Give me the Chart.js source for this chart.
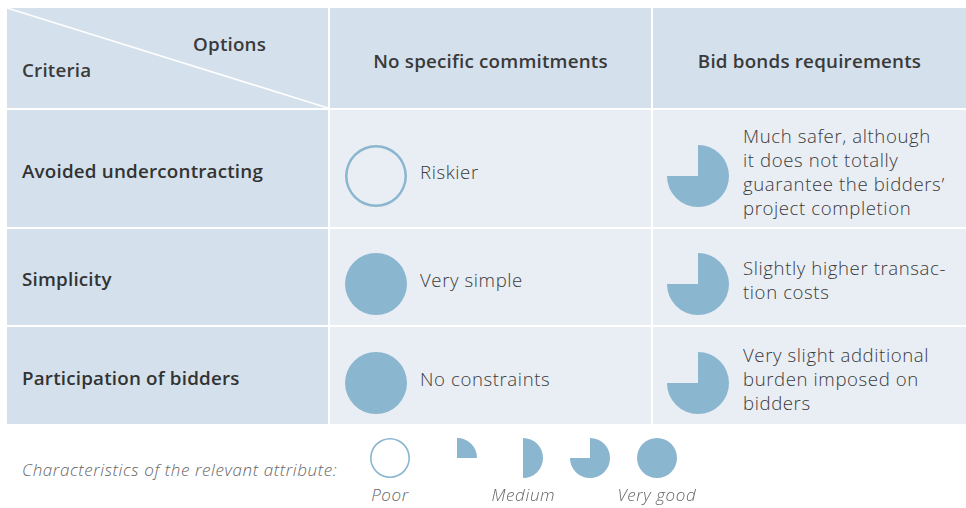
<!DOCTYPE html>
<html>
<head>
<meta charset="utf-8">
<script src="https://cdn.jsdelivr.net/npm/chart.js@4.4.1/dist/chart.umd.min.js"></script>
<style>
  html, body { margin: 0; padding: 0; background: #fff; }
  body { width: 966px; height: 508px; position: relative; overflow: hidden; font-family: "Open Sans", Lato, sans-serif; color: #3c3c3c; }
  #grid {
    position: absolute; left: 7px; top: 8px;
    display: grid;
    grid-template-columns: 321px 321px 313px;
    grid-template-rows: 100px 117px 96px 97px;
    gap: 2px;
  }
  .cell { position: relative; background: #e9eef5; }
  .head { background: #d4e1ec; }
  .hd { font-size: 18.8px; letter-spacing: 0.2px; font-weight: 600; color: #3a3a3a; white-space: nowrap; }
  .colhead { display: flex; align-items: center; justify-content: center; padding-top: 6px; box-sizing: border-box; }
  .rowlabel { display: flex; align-items: center; padding-left: 15px; padding-top: 4px; box-sizing: border-box; color: #333; }
  .ball { position: absolute; top: 50%; }
  .note { position: absolute; left: 90px; top: 50%; transform: translateY(-50%); margin-top: 3px; font-size: 18.6px; letter-spacing: 0.6px; font-weight: 300; color: #3a3a3a; white-space: nowrap; }
  .note div { height: 24px; line-height: 24px; overflow: hidden; }
  #legendText { position: absolute; left: 22px; top: 458px; font-size: 17px; letter-spacing: 0.6px; font-style: italic; font-weight: 300; color: #666; white-space: nowrap; }
  .lg { position: absolute; top: 438px; width: 66px; text-align: center; }
  .lg canvas { display: block; margin: 0 auto; }
  .lg span { display: block; margin-top: 5px; font-size: 17px; letter-spacing: 0.6px; font-style: italic; font-weight: 300; color: #666; white-space: nowrap; height: 22px; margin-left: -20px; margin-right: -20px; }
</style>
</head>
<body>
<div id="grid"></div>
<div id="legendText">Characteristics of the relevant attribute:</div>
<div id="legend"></div>
<script>
// Table content
const cornerRow = "Options";
const cornerCol = "Criteria";
const options = ["No specific commitments", "Bid bonds requirements"];
const criteria = ["Avoided undercontracting", "Simplicity", "Participation of bidders"];

// Harvey ball scores, in quarters (0 = poor ... 4 = very good)
const scoresNoCommitments = [0, 4, 4];
const scoresBidBonds = [3, 3, 3];

const notesNoCommitments = [["Riskier"], ["Very simple"], ["No constraints"]];
const notesBidBonds = [
  ["Much safer, although", "it does not totally", "guarantee the bidders’", "project completion"],
  ["Slightly higher transac-", "tion costs"],
  ["Very slight additional", "burden imposed on", "bidders"],
];

// Legend
const legendScores = [0, 1, 2, 3, 4];
const legendLabels = ["Poor", "", "Medium", "", "Very good"];

const BALL_COLOR = "#8bb6cf";

// Draw one Harvey ball as a Chart.js pie (an empty ball is a thin ring)
function makeBall(canvas, score, ringWidth) {
  const empty = score === 0;
  const dataset = empty
    ? { data: [4], backgroundColor: [BALL_COLOR], borderWidth: 0 }
    : { data: [score, 4 - score], backgroundColor: [BALL_COLOR, "rgba(0,0,0,0)"], borderWidth: 0 };
  const radius = canvas.width / 2;
  return new Chart(canvas.getContext("2d"), {
    type: empty ? "doughnut" : "pie",
    data: { labels: ["score", "rest"].slice(0, dataset.data.length), datasets: [dataset] },
    options: {
      responsive: false,
      animation: false,
      events: [],
      cutout: empty ? radius - ringWidth : 0,
      layout: { padding: 0 },
      plugins: { legend: { display: false }, tooltip: { enabled: false } },
    },
  });
}

function addCell(cls, html) {
  const div = document.createElement("div");
  div.className = "cell " + cls;
  if (html) div.innerHTML = html;
  document.getElementById("grid").appendChild(div);
  return div;
}

// Header row: corner with diagonal, then option headers
const corner = addCell("head", "");
corner.innerHTML =
  '<svg width="321" height="100" style="position:absolute;left:0;top:0">' +
  '<line x1="0" y1="0" x2="321" y2="100" stroke="#fff" stroke-width="1.6"/></svg>' +
  '<div class="hd" style="position:absolute;left:186px;top:23px">' + cornerRow + "</div>" +
  '<div class="hd" style="position:absolute;left:15px;top:49px">' + cornerCol + "</div>";
options.forEach((o) => addCell("head colhead hd", o));

// Body rows
criteria.forEach((crit, i) => {
  addCell("head rowlabel hd", crit);
  [[scoresNoCommitments, notesNoCommitments, 15], [scoresBidBonds, notesBidBonds, 14]].forEach(([scores, notes, left]) => {
    const cell = addCell("", "");
    const c = document.createElement("canvas");
    c.width = 62; c.height = 62;
    c.className = "ball";
    c.style.left = left + "px";
    c.style.marginTop = (-31 + 7) + "px";
    cell.appendChild(c);
    const note = document.createElement("div");
    note.className = "note";
    notes[i].forEach((line) => {
      const l = document.createElement("div");
      l.textContent = line;
      note.appendChild(l);
    });
    cell.appendChild(note);
    makeBall(c, scores[i], 2.5);
  });
});

// Legend balls
legendScores.forEach((s, i) => {
  const d = document.createElement("div");
  d.className = "lg";
  d.style.left = (357 + i * 66.7) + "px";
  const c = document.createElement("canvas");
  c.width = 40; c.height = 40;
  d.appendChild(c);
  const sp = document.createElement("span");
  sp.textContent = legendLabels[i];
  d.appendChild(sp);
  document.getElementById("legend").appendChild(d);
  makeBall(c, s, 1.6);
});
</script>
</body>
</html>
